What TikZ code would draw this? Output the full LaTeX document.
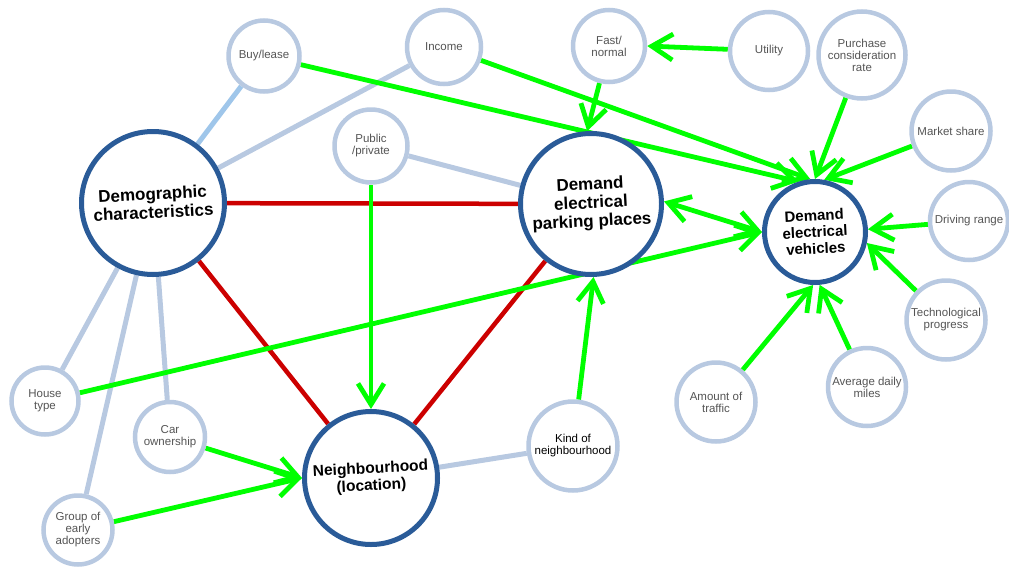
\documentclass[tikz,border=0pt]{standalone}
\usepackage{fontspec}
\setmainfont{Liberation Sans}
\usetikzlibrary{arrows.meta,backgrounds}

\definecolor{hubblue}{HTML}{2A5B98}
\definecolor{factorblue}{HTML}{B8C9E1}
\definecolor{linkblue}{HTML}{9FC6EA}
\definecolor{flowgreen}{HTML}{00FF00}
\definecolor{tiered}{HTML}{CC0000}
\definecolor{labelgray}{HTML}{555555}

\begin{document}
\begin{tikzpicture}[x=1pt,y=-1pt,
  factor/.style={circle,draw=factorblue,line width=4.5pt,fill=white,inner sep=0pt,
    align=center,text=labelgray,font=\fontsize{11.5}{12}\selectfont,minimum size=#1},
  hub/.style={circle,draw=hubblue,line width=5pt,fill=white,inner sep=0pt,minimum size=#1},
  hubtext/.style={rotate=3,align=center,text=black,inner sep=0pt},
  softlink/.style={draw=factorblue,line width=5pt},
  tie/.style={draw=tiered,line width=4.5pt},
  barb/.tip={Straight Barb[length=21pt,width=26pt]},
  flow/.style={draw=flowgreen,line width=4.8pt,-barb},
  twoway/.style={draw=flowgreen,line width=4.8pt,barb-barb}
]
\useasboundingbox (0,0) rectangle (1009,568);

% main concepts
\node[hub=143,label={[hubtext,font=\fontsize{17}{18.5}\selectfont\bfseries]center:Demographic\\characteristics}] (demo) at (153,203) {};
\node[hub=141,label={[hubtext,font=\fontsize{17}{18.5}\selectfont\bfseries]center:Demand\\electrical\\parking places}] (park) at (591,204) {};
\node[hub=101,label={[hubtext,font=\fontsize{15}{16.5}\selectfont\bfseries]center:Demand\\electrical\\vehicles}] (ev) at (815,232) {};
\node[hub=133,label={[hubtext,font=\fontsize{15.5}{17}\selectfont\bfseries]center:Neighbourhood\\(location)}] (nb) at (371,478) {};

% influencing factors
\node[factor=71] (buy) at (264,56) {Buy/lease};
\node[factor=74] (inc) at (444,47) {Income};
\node[factor=73] (pub) at (371,146) {Public\\/private};
\node[factor=72] (fast) at (609,46) {Fast/\\normal};
\node[factor=78] (util) at (769,51) {Utility};
\node[factor=87] (purch) at (862,55) {Purchase\\consideration\\rate};
\node[factor=79] (mkt) at (951,131) {Market share};
\node[factor=78] (drv) at (969,221) {Driving range};
\node[factor=79] (tech) at (946,320) {Technological\\progress};
\node[factor=78] (avg) at (867,387) {Average daily\\miles};
\node[factor=79] (amt) at (716,402) {Amount of\\traffic};
\node[factor=89,text=black] (kind) at (573,446) {Kind of\\neighbourhood};
\node[factor=67] (house) at (45,401) {House\\type};
\node[factor=70] (car) at (170,437) {Car\\ownership};
\node[factor=69] (grp) at (78,530) {Group of\\early\\adopters};

\begin{scope}[on background layer]
  % plain associations
  \draw[softlink,draw=linkblue] (buy) -- (demo);
  \draw[softlink] (inc) -- (demo);
  \draw[softlink] (pub) -- (park);
  \draw[softlink] (demo) -- (house);
  \draw[softlink] (demo) -- (car);
  \draw[softlink] (demo) -- (grp);
  \draw[softlink] (nb) -- (kind);

  % strong ties between the main concepts
  \draw[tie] (demo) -- (park);
  \draw[tie] (demo) -- (nb);
  \draw[tie] (park) -- (nb);

  % influences
  \draw[flow] (buy) -- (ev.108);
  \draw[flow] (inc) -- (ev.95);
  \draw[flow] (purch) -- (ev.90);
  \draw[flow] (mkt) -- (ev.80);
  \draw[flow] (drv) -- (ev.3);
  \draw[flow] (tech) -- (ev.-12);
  \draw[flow] (avg) -- (ev.-85);
  \draw[flow] (amt) -- (ev.-92);
  \draw[flow] (house) -- (ev.180);
  \draw[twoway] (park.2) -- (ev.180);
  \draw[flow] (fast) -- (park.93);
  \draw[flow] (util) -- (fast.0);
  \draw[flow] (pub) -- (nb);
  \draw[flow] (kind) -- (park.-88);
  \draw[flow] (car) -- (nb.180);
  \draw[flow] (grp) -- (nb.180);
\end{scope}
\end{tikzpicture}
\end{document}
